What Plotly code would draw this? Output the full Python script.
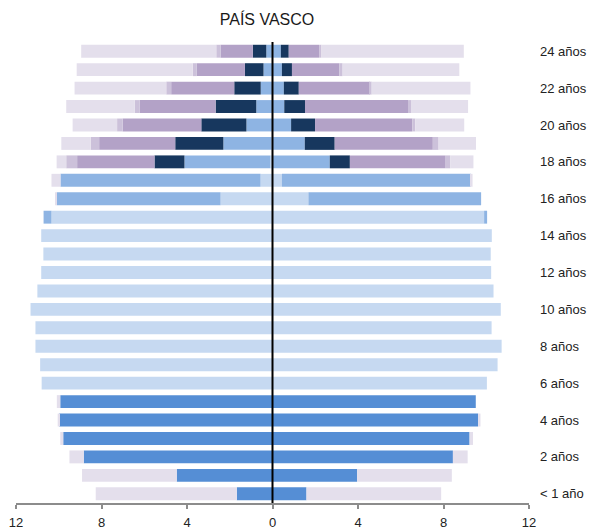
import plotly.graph_objects as go

ages = list(range(25))
age_labels = ["< 1 año"] + [f"{a} años" for a in range(2, 25, 2)]
label_vals = list(range(0, 25, 2))

# Left side (values shown as negative)
left_A = [1.67, 4.48, 8.83, 9.79, 9.98, 9.93] + [0]*19
left_B = [0]*6 + [10.8, 10.87, 11.09, 11.09, 11.32, 11.0, 10.82, 10.72, 10.82, 10.34, 2.43, 0.56, 0.1, 0.05, 0, 0, 0, 0, 0]
left_C = [0]*15 + [0.37, 7.66, 9.36, 4.02, 2.25, 1.22, 0.76, 0.55, 0.42, 0.29]
left_D = [0]*18 + [1.40, 2.25, 2.11, 1.90, 1.24, 0.87, 0.63]
left_E = [0]*18 + [3.62, 3.56, 3.68, 3.56, 2.95, 2.25, 1.51]
left_F = [0]*18 + [0.51, 0.39, 0.26, 0.23, 0.23, 0.19, 0.20]
left_G = [6.6, 4.43, 0.67, 0.14, 0.07, 0.16] + [0]*10 + [0.06, 0.42, 0.45, 1.38, 2.08, 3.2, 4.29, 5.43, 6.32]

# Right side
right_A = [1.59, 3.96, 8.44, 9.22, 9.62, 9.51] + [0]*19
right_B = [0]*6 + [10.03, 10.53, 10.72, 10.25, 10.68, 10.34, 10.23, 10.21, 10.26, 9.9, 1.68, 0.44, 0, 0, 0, 0, 0, 0, 0]
right_C = [0]*15 + [0.14, 8.08, 8.84, 2.68, 1.51, 0.87, 0.55, 0.53, 0.44, 0.39]
right_D = [0]*18 + [0.94, 1.40, 1.12, 0.97, 0.70, 0.47, 0.37]
right_E = [0]*18 + [4.45, 4.59, 4.55, 4.82, 3.32, 2.21, 1.42]
right_F = [0]*18 + [0.25, 0.27, 0.14, 0.14, 0.09, 0.16, 0.11]
right_G = [6.3, 4.43, 0.69, 0.16, 0.11, 0] + [0]*11 + [0.08, 1.08, 1.75, 2.29, 2.67, 4.62, 5.46, 6.66]

tick_vals_x = [-12, -8, -4, 0, 4, 8, 12]
tick_text_x = ["12", "8", "4", "0", "4", "8", "12"]

colors = ["#558ed5", "#c6d9f1", "#8eb4e3", "#17375e", "#b3a2c7", "#ccc1da", "#e4dfec"]
lefts = [left_A, left_B, left_C, left_D, left_E, left_F, left_G]
rights = [right_A, right_B, right_C, right_D, right_E, right_F, right_G]

fig = go.Figure()
for vals, col in zip(lefts, colors):
    fig.add_trace(go.Bar(y=ages, x=[-v for v in vals], orientation="h",
                         marker=dict(color=col, line=dict(width=0)), showlegend=False,
                         hoverinfo="skip"))
for vals, col in zip(rights, colors):
    fig.add_trace(go.Bar(y=ages, x=vals, orientation="h",
                         marker=dict(color=col, line=dict(width=0)), showlegend=False,
                         hoverinfo="skip"))

fig.add_shape(type="line", xref="x", yref="paper", x0=0, x1=0, y0=0, y1=1,
              line=dict(color="black", width=2))

fig.update_layout(
    template="none",
    width=596, height=529,
    barmode="relative", bargap=0.3,
    margin=dict(l=16, r=67, t=41.5, b=26, pad=0, autoexpand=False),
    paper_bgcolor="white", plot_bgcolor="white",
    font=dict(family="Liberation Sans, Arial, sans-serif", size=13, color="#222"),
    title=dict(text="PAÍS VASCO", x=267/596, xanchor="center", xref="container",
               y=1 - 19.5/529, yanchor="middle", yref="container",
               font=dict(size=16, color="#1a1a1a")),
    xaxis=dict(range=[-12, 12], tickvals=tick_vals_x, ticktext=tick_text_x,
               showgrid=False, zeroline=False, showline=True, linecolor="#8c8c8c",
               linewidth=1.5, ticks="outside", ticklen=4, tickcolor="#8c8c8c",
               tickwidth=1.5, automargin=False, ticklabelstandoff=3,
               tickfont=dict(size=13, color="#222")),
    yaxis=dict(range=[-0.5, 24.5], side="right", tickvals=label_vals, ticktext=age_labels,
               showgrid=False, zeroline=False, showline=False, ticks="",
               automargin=False, ticklabelstandoff=10,
               tickfont=dict(size=13, color="#222")),
)

fig.write_html("out.html", post_script="document.body.style.margin='0';",
               config={"displayModeBar": False})
